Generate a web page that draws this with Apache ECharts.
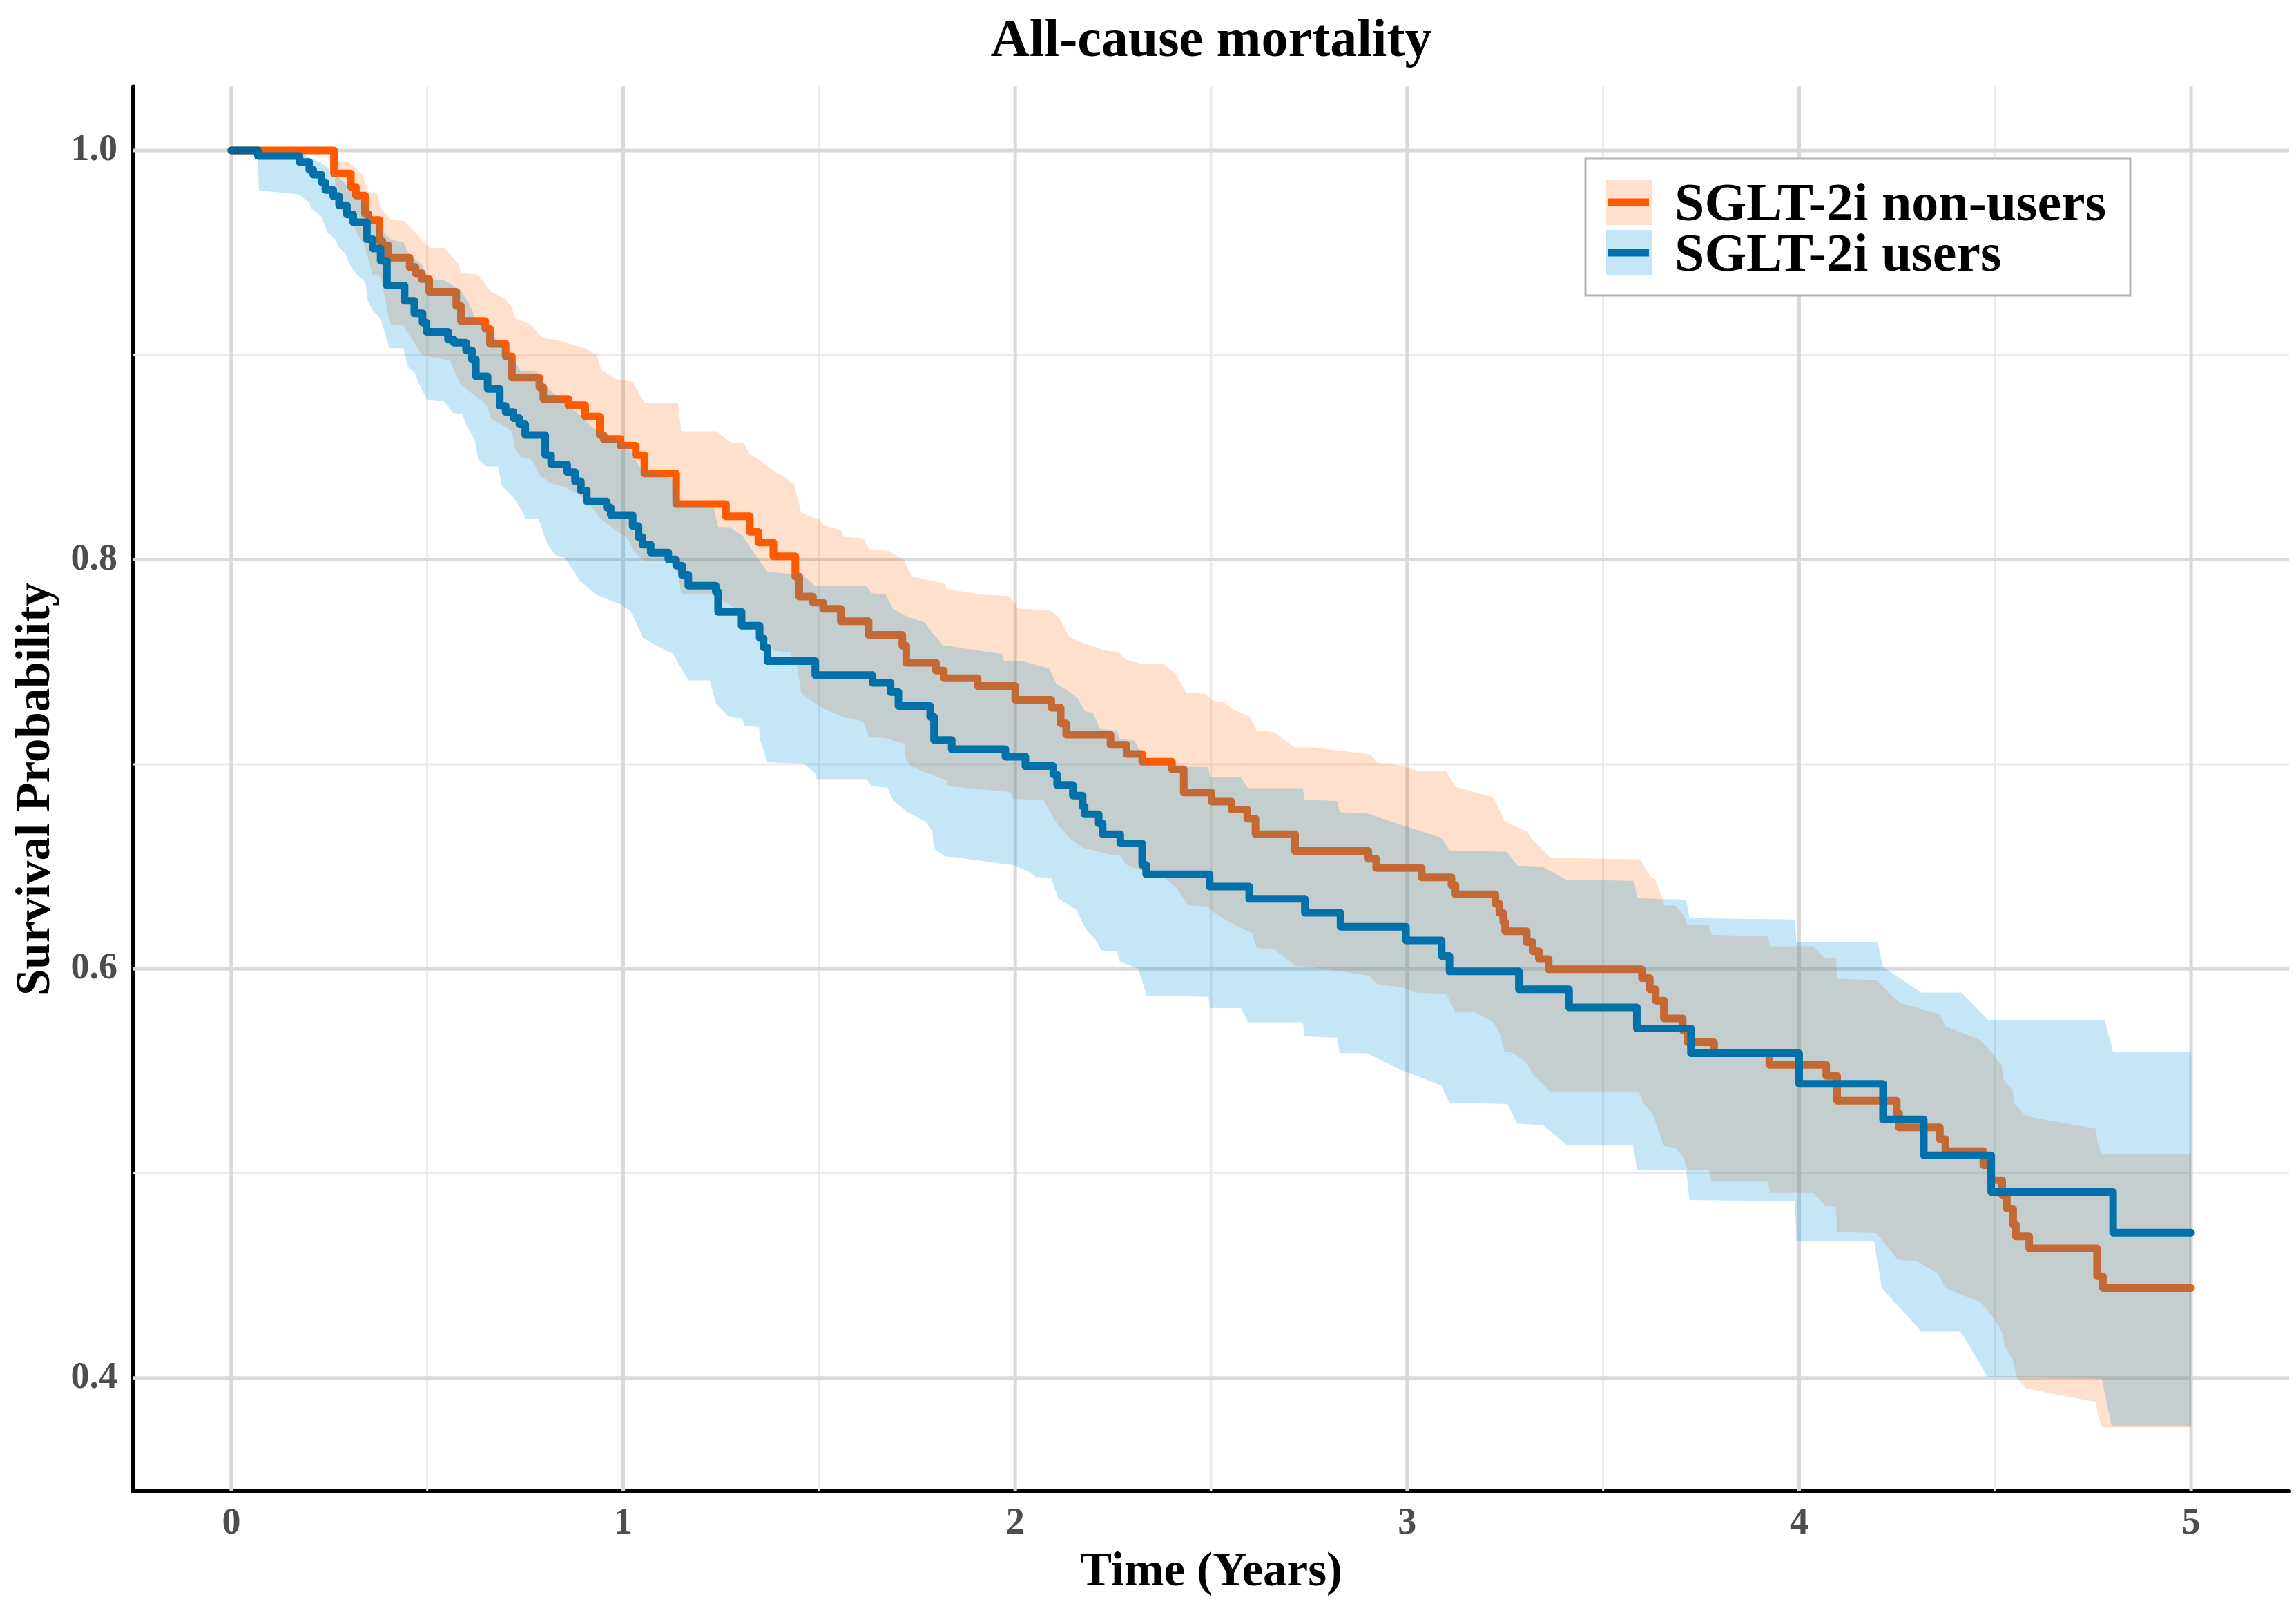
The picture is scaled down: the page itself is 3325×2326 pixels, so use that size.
<!DOCTYPE html>
<html>
<head>
<meta charset="utf-8">
<script src="https://cdn.jsdelivr.net/npm/echarts@6/dist/echarts.min.js"></script>
<style>
html,body{margin:0;padding:0;background:#ffffff;}
#chart{width:3325px;height:2326px;}
</style>
</head>
<body>
<div id="chart"></div>
<script>
// ---------------- data ----------------
const titleText = 'All-cause mortality';
const xAxisTitle = 'Time (Years)';
const yAxisTitle = 'Survival Probability';
const seriesNames = ['SGLT-2i non-users', 'SGLT-2i users'];

const xTickLabels = [0, 1, 2, 3, 4, 5];
const xMinorTicks = [0.5, 1.5, 2.5, 3.5, 4.5];
const yTickLabels = [0.4, 0.6, 0.8, 1.0];
const yMinorTicks = [0.5, 0.7, 0.9];

// Kaplan-Meier estimates [time, survival]
const nonUsersSurv = [
[0,1.0],[0.262,0.9888],[0.305,0.9822],[0.318,0.978],[0.341,0.969],[0.35,0.966],[0.378,0.956],[0.385,0.9537],[0.4,0.9476],[0.455,0.943],[0.47,0.94],[0.486,0.9371],[0.505,0.931],[0.574,0.924],[0.586,0.9167],[0.648,0.9129],[0.66,0.9055],[0.7,0.8994],[0.716,0.889],[0.786,0.8843],[0.796,0.8786],[0.86,0.8755],[0.903,0.87],[0.94,0.8609],[0.95,0.859],[0.993,0.8557],[1.032,0.8511],[1.054,0.8421],[1.135,0.8272],[1.262,0.8212],[1.323,0.8136],[1.345,0.8084],[1.383,0.8016],[1.439,0.7918],[1.449,0.782],[1.484,0.779],[1.51,0.776],[1.555,0.7699],[1.626,0.7632],[1.712,0.7579],[1.722,0.7496],[1.798,0.7458],[1.818,0.7421],[1.904,0.7383],[2.0,0.7315],[2.092,0.7276],[2.116,0.72],[2.13,0.7145],[2.243,0.7095],[2.284,0.705],[2.324,0.7012],[2.4,0.6975],[2.43,0.6862],[2.501,0.6817],[2.552,0.6779],[2.592,0.6734],[2.613,0.6658],[2.714,0.6576],[2.901,0.6538],[2.921,0.6493],[3.037,0.6447],[3.113,0.641],[3.123,0.6364],[3.225,0.6319],[3.235,0.6274],[3.245,0.6229],[3.25,0.6184],[3.305,0.6131],[3.32,0.6086],[3.336,0.6048],[3.361,0.5998],[3.599,0.5955],[3.619,0.59],[3.634,0.5845],[3.655,0.5758],[3.703,0.57],[3.716,0.5641],[3.783,0.5587],[3.924,0.5531],[4.069,0.5477],[4.097,0.5355],[4.249,0.5293],[4.255,0.5225],[4.359,0.5167],[4.373,0.5109],[4.47,0.5041],[4.49,0.4967],[4.518,0.4895],[4.53,0.4828],[4.546,0.475],[4.553,0.4692],[4.587,0.4634],[4.76,0.4498],[4.775,0.444],[5.0,0.444]
];
const usersSurv = [
[0,1.0],[0.068,0.9973],[0.174,0.9943],[0.199,0.9905],[0.209,0.9882],[0.23,0.9845],[0.24,0.9807],[0.26,0.9777],[0.275,0.9732],[0.295,0.9687],[0.311,0.9649],[0.346,0.9566],[0.361,0.9521],[0.381,0.9461],[0.397,0.934],[0.442,0.9265],[0.467,0.9204],[0.488,0.9159],[0.498,0.9114],[0.553,0.9076],[0.568,0.9061],[0.599,0.9024],[0.614,0.8978],[0.624,0.8896],[0.654,0.8835],[0.685,0.8752],[0.7,0.8722],[0.72,0.8692],[0.735,0.8662],[0.75,0.8609],[0.801,0.8511],[0.816,0.8466],[0.857,0.8428],[0.877,0.8383],[0.892,0.8338],[0.907,0.8285],[0.958,0.8255],[0.968,0.8218],[1.024,0.8165],[1.039,0.811],[1.049,0.8074],[1.07,0.8035],[1.115,0.8001],[1.135,0.7971],[1.15,0.7926],[1.166,0.7873],[1.236,0.7843],[1.242,0.7745],[1.302,0.7677],[1.348,0.7617],[1.358,0.7571],[1.368,0.7504],[1.49,0.7436],[1.636,0.7398],[1.682,0.7353],[1.702,0.7285],[1.783,0.7232],[1.793,0.7119],[1.838,0.7074],[1.975,0.7037],[2.026,0.6991],[2.097,0.695],[2.107,0.6899],[2.147,0.6847],[2.172,0.6794],[2.177,0.6756],[2.213,0.6711],[2.223,0.6658],[2.268,0.6613],[2.324,0.6508],[2.334,0.6462],[2.496,0.6402],[2.597,0.6342],[2.739,0.6274],[2.83,0.6206],[2.997,0.6139],[3.088,0.6063],[3.108,0.5988],[3.285,0.59],[3.413,0.5812],[3.586,0.5709],[3.724,0.5587],[4.0,0.5438],[4.214,0.5264],[4.318,0.5089],[4.49,0.4909],[4.801,0.4711],[5.0,0.4711]
];

// 95% confidence limits [time, value]
const nonUsersUpper = [
[0,1.0],[0.262,1.0],[0.263,0.995],[0.299,0.9944],[0.335,0.9882],[0.349,0.9799],[0.374,0.9785],[0.381,0.9723],[0.407,0.9661],[0.443,0.9655],[0.493,0.9551],[0.507,0.9524],[0.543,0.9524],[0.579,0.9448],[0.586,0.94],[0.63,0.9393],[0.662,0.931],[0.698,0.9276],[0.716,0.9234],[0.723,0.9179],[0.763,0.9151],[0.795,0.9083],[0.827,0.9076],[0.903,0.9034],[0.932,0.9],[0.946,0.8924],[0.982,0.8883],[1.025,0.8869],[1.054,0.8766],[1.14,0.8766],[1.148,0.8628],[1.238,0.8628],[1.274,0.8573],[1.307,0.8573],[1.321,0.8518],[1.35,0.8484],[1.382,0.8435],[1.415,0.8401],[1.436,0.8367],[1.454,0.8229],[1.501,0.8194],[1.512,0.8167],[1.555,0.8146],[1.562,0.8112],[1.612,0.8105],[1.627,0.805],[1.677,0.8043],[1.717,0.7995],[1.735,0.7919],[1.785,0.7898],[1.821,0.7884],[1.825,0.7857],[1.914,0.7829],[1.986,0.7822],[2.008,0.776],[2.087,0.7754],[2.111,0.772],[2.137,0.7624],[2.172,0.7594],[2.233,0.7555],[2.263,0.7549],[2.283,0.7511],[2.324,0.7489],[2.378,0.7489],[2.407,0.7447],[2.436,0.7351],[2.486,0.7344],[2.504,0.731],[2.533,0.7303],[2.555,0.7268],[2.598,0.7234],[2.616,0.7165],[2.659,0.7158],[2.713,0.7082],[2.763,0.7082],[2.907,0.7048],[2.925,0.7007],[2.986,0.6993],[3.029,0.6965],[3.1,0.6965],[3.123,0.689],[3.219,0.6839],[3.235,0.6779],[3.25,0.6719],[3.305,0.6673],[3.315,0.6643],[3.365,0.6543],[3.595,0.6535],[3.619,0.6455],[3.633,0.6434],[3.651,0.6345],[3.655,0.631],[3.684,0.631],[3.705,0.6262],[3.716,0.6214],[3.77,0.6214],[3.777,0.6166],[3.921,0.6159],[3.925,0.611],[4.036,0.611],[4.065,0.6055],[4.094,0.6055],[4.097,0.5952],[4.198,0.5945],[4.236,0.587],[4.256,0.5835],[4.359,0.5777],[4.373,0.5719],[4.463,0.5652],[4.492,0.559],[4.517,0.5528],[4.52,0.5466],[4.545,0.5404],[4.549,0.5342],[4.578,0.528],[4.758,0.5218],[4.761,0.5149],[4.772,0.5094],[5.0,0.5094]
];
const nonUsersLower = [
[0,1.0],[0.262,1.0],[0.266,0.9785],[0.277,0.9716],[0.306,0.9661],[0.32,0.96],[0.342,0.9523],[0.36,0.9393],[0.381,0.9386],[0.399,0.9207],[0.407,0.9152],[0.439,0.9145],[0.464,0.9069],[0.486,0.9],[0.558,0.8973],[0.583,0.8862],[0.608,0.8821],[0.651,0.8759],[0.662,0.869],[0.694,0.8655],[0.716,0.8628],[0.723,0.8545],[0.741,0.8497],[0.766,0.849],[0.788,0.8408],[0.817,0.8373],[0.853,0.8353],[0.892,0.8311],[0.91,0.8284],[0.939,0.8208],[0.96,0.8173],[1.011,0.8104],[1.029,0.8036],[1.054,0.7994],[1.127,0.7995],[1.141,0.7926],[1.148,0.7829],[1.224,0.7829],[1.289,0.7761],[1.321,0.7692],[1.353,0.765],[1.386,0.7554],[1.425,0.7547],[1.443,0.7485],[1.454,0.7347],[1.483,0.7306],[1.512,0.7271],[1.562,0.723],[1.612,0.7209],[1.627,0.7134],[1.67,0.7127],[1.717,0.7099],[1.72,0.703],[1.735,0.6989],[1.825,0.692],[1.828,0.6893],[1.986,0.6865],[1.994,0.6831],[2.073,0.6824],[2.091,0.6759],[2.109,0.6703],[2.141,0.6635],[2.17,0.6593],[2.242,0.6559],[2.27,0.6552],[2.281,0.6511],[2.317,0.6483],[2.382,0.6442],[2.411,0.64],[2.44,0.6311],[2.49,0.6304],[2.511,0.627],[2.547,0.6228],[2.605,0.6173],[2.616,0.6104],[2.659,0.6097],[2.716,0.6015],[2.76,0.6008],[2.903,0.5966],[2.925,0.5925],[2.986,0.5911],[3.022,0.5884],[3.1,0.5877],[3.123,0.5787],[3.173,0.5787],[3.22,0.5739],[3.238,0.5677],[3.249,0.5594],[3.263,0.5594],[3.303,0.5546],[3.321,0.5484],[3.364,0.5401],[3.59,0.5401],[3.601,0.5346],[3.626,0.5291],[3.655,0.5133],[3.684,0.5126],[3.705,0.5077],[3.716,0.5015],[3.77,0.5015],[3.777,0.496],[3.921,0.496],[3.925,0.4905],[4.036,0.4905],[4.065,0.4843],[4.094,0.4836],[4.097,0.4712],[4.197,0.4709],[4.251,0.4578],[4.301,0.4571],[4.355,0.4509],[4.373,0.444],[4.463,0.4371],[4.495,0.4295],[4.517,0.4227],[4.524,0.4157],[4.545,0.4089],[4.556,0.3999],[4.578,0.395],[4.758,0.3882],[4.761,0.3827],[4.772,0.3758],[5.0,0.3758]
];
const usersUpper = [
[0,1.0],[0.173,1.0],[0.198,0.9964],[0.227,0.9944],[0.245,0.9916],[0.259,0.9882],[0.284,0.9854],[0.306,0.9799],[0.349,0.973],[0.36,0.9661],[0.407,0.9565],[0.439,0.9551],[0.453,0.9496],[0.486,0.9441],[0.507,0.9365],[0.543,0.9365],[0.586,0.9317],[0.608,0.9248],[0.622,0.9179],[0.658,0.9124],[0.684,0.9062],[0.709,0.9007],[0.738,0.8924],[0.781,0.8917],[0.802,0.8849],[0.845,0.8773],[0.888,0.8711],[0.924,0.8642],[0.968,0.86],[1.011,0.8559],[1.025,0.8511],[1.048,0.8435],[1.127,0.8394],[1.145,0.827],[1.231,0.8256],[1.242,0.816],[1.271,0.816],[1.303,0.8119],[1.368,0.794],[1.458,0.7926],[1.49,0.7871],[1.62,0.7871],[1.634,0.7836],[1.67,0.7829],[1.688,0.776],[1.72,0.7726],[1.77,0.7692],[1.785,0.765],[1.817,0.7581],[1.965,0.754],[1.972,0.7506],[2.015,0.7506],[2.087,0.7468],[2.105,0.7392],[2.13,0.7365],[2.159,0.7323],[2.177,0.7261],[2.199,0.7248],[2.217,0.7172],[2.26,0.7165],[2.267,0.7124],[2.303,0.7117],[2.317,0.7075],[2.332,0.6993],[2.493,0.6986],[2.497,0.6938],[2.576,0.6938],[2.594,0.6883],[2.734,0.6883],[2.738,0.6827],[2.821,0.6821],[2.828,0.6765],[2.9,0.6759],[2.986,0.6703],[3.087,0.6641],[3.108,0.6579],[3.254,0.6572],[3.282,0.6504],[3.344,0.65],[3.406,0.6436],[3.579,0.643],[3.587,0.6345],[3.712,0.6338],[3.72,0.6248],[3.989,0.6241],[3.993,0.6131],[4.2,0.6131],[4.214,0.601],[4.311,0.5884],[4.414,0.5884],[4.483,0.5748],[4.78,0.5748],[4.801,0.5593],[5.0,0.5593]
];
const usersLower = [
[0,1.0],[0.068,1.0],[0.07,0.9806],[0.173,0.9785],[0.198,0.9744],[0.205,0.9716],[0.23,0.9675],[0.245,0.96],[0.266,0.9565],[0.273,0.953],[0.291,0.9496],[0.299,0.9455],[0.32,0.9393],[0.342,0.9358],[0.349,0.9262],[0.36,0.922],[0.381,0.9179],[0.403,0.9034],[0.439,0.9034],[0.45,0.8945],[0.471,0.8904],[0.478,0.8862],[0.5,0.878],[0.543,0.8773],[0.565,0.8718],[0.59,0.8711],[0.597,0.867],[0.622,0.858],[0.63,0.849],[0.651,0.8456],[0.68,0.8456],[0.691,0.836],[0.723,0.8297],[0.752,0.8201],[0.784,0.8201],[0.806,0.8077],[0.827,0.8022],[0.852,0.8008],[0.888,0.79],[0.93,0.783],[0.994,0.7781],[1.019,0.7747],[1.051,0.7616],[1.084,0.7581],[1.127,0.754],[1.166,0.741],[1.22,0.741],[1.238,0.7292],[1.271,0.723],[1.303,0.7223],[1.31,0.7189],[1.346,0.7182],[1.35,0.7113],[1.368,0.701],[1.461,0.7003],[1.49,0.6955],[1.494,0.6927],[1.62,0.6927],[1.634,0.6893],[1.674,0.6886],[1.688,0.6824],[1.728,0.6762],[1.771,0.672],[1.789,0.6672],[1.792,0.6589],[1.821,0.655],[1.85,0.6545],[2.0,0.6505],[2.04,0.647],[2.051,0.6449],[2.092,0.6445],[2.109,0.6345],[2.155,0.629],[2.18,0.6194],[2.202,0.615],[2.22,0.609],[2.26,0.6084],[2.267,0.6035],[2.314,0.6001],[2.335,0.587],[2.493,0.5863],[2.497,0.5808],[2.576,0.5808],[2.594,0.5739],[2.734,0.5739],[2.738,0.567],[2.821,0.5663],[2.828,0.5588],[2.896,0.5588],[2.986,0.5505],[3.087,0.543],[3.108,0.5346],[3.256,0.5339],[3.281,0.5243],[3.346,0.5236],[3.407,0.514],[3.576,0.514],[3.587,0.5015],[3.712,0.5015],[3.72,0.487],[3.989,0.4864],[3.993,0.467],[4.191,0.467],[4.211,0.444],[4.312,0.4227],[4.412,0.4227],[4.481,0.4006],[4.772,0.3999],[4.797,0.3765],[5.0,0.3765]
];

// ---------------- style ----------------
const X_MIN = -0.25, X_MAX = 5.25;
const Y_MIN = 0.3446, Y_MAX = 1.0312;
const orangeLine = '#FF5A00';
const blueLine = '#00669A';
const orangeFill = 'rgba(255,100,0,0.2)';
const blueFill = 'rgba(9,151,218,0.24)';
const orangeKey = '#FFE0CC';
const blueKey = '#C4E6F6';
const majorGrid = '#D9D9D9';
const minorGrid = '#EBEBEB';
const FONT = '"Liberation Serif", "DejaVu Serif", serif';

function gridLineSeries(values, dir, color, width) {
  return {
    type: 'custom', coordinateSystem: 'cartesian2d', silent: true, z: 1,
    data: values.map(v => dir === 'x' ? [v, 0.5] : [0, v]),
    renderItem: function (params, api) {
      const cs = params.coordSys;
      if (dir === 'x') {
        const x = api.coord([api.value(0), 0.5])[0];
        return { type: 'line', shape: { x1: x, y1: cs.y, x2: x, y2: cs.y + cs.height },
                 style: { stroke: color, lineWidth: width } };
      }
      const y = api.coord([0, api.value(1)])[1];
      return { type: 'line', shape: { x1: cs.x, y1: y, x2: cs.x + cs.width, y2: y },
               style: { stroke: color, lineWidth: width } };
    }
  };
}

function bandSeries(name, upper, lower, color, z) {
  return {
    type: 'custom', name: name, coordinateSystem: 'cartesian2d', silent: true, z: z,
    data: [[0, 1]],
    renderItem: function (params, api) {
      const pts = upper.map(p => api.coord(p))
        .concat(lower.slice().reverse().map(p => api.coord(p)));
      return { type: 'polygon', shape: { points: pts }, style: { fill: color } };
    }
  };
}

function kmSeries(name, data, color, z) {
  return {
    type: 'line', name: name, data: data, step: 'end', symbol: 'none', silent: true, z: z,
    lineStyle: { color: color, width: 11, cap: 'round', join: 'round' }
  };
}

const chart = echarts.init(document.getElementById('chart'), null, { renderer: 'canvas' });

const LEG_X = 2296, LEG_Y = 230, GZ = 50;
const TEXT_STYLE = { fontFamily: FONT, fontWeight: 'bold', fill: '#000000' };
const option = {
  backgroundColor: '#ffffff',
  animation: false,
  grid: { left: 193, right: 10, top: 125.5, bottom: 166, containLabel: false },
  xAxis: {
    type: 'value', min: X_MIN, max: X_MAX,
    name: xAxisTitle, nameLocation: 'middle', nameGap: 84,
    nameTextStyle: { fontFamily: FONT, fontWeight: 'bold', fontSize: 69, color: '#000000' },
    axisLine: { show: true, onZero: false, lineStyle: { color: '#000000', width: 6 } },
    axisTick: { show: false },
    splitLine: { show: false },
    axisLabel: {
      customValues: xTickLabels, margin: 20,
      fontFamily: FONT, fontWeight: 'bold', fontSize: 54, color: '#4D4D4D',
      formatter: v => String(Math.round(v))
    }
  },
  yAxis: {
    type: 'value', min: Y_MIN, max: Y_MAX,
    name: yAxisTitle, nameLocation: 'middle', nameGap: 105,
    nameTextStyle: { fontFamily: FONT, fontWeight: 'bold', fontSize: 69, color: '#000000' },
    axisLine: { show: true, onZero: false, lineStyle: { color: '#000000', width: 6 } },
    axisTick: { show: false },
    splitLine: { show: false },
    axisLabel: {
      customValues: yTickLabels, margin: 23,
      fontFamily: FONT, fontWeight: 'bold', fontSize: 54, color: '#4D4D4D',
      formatter: v => v.toFixed(1)
    }
  },
  series: [
    gridLineSeries(xMinorTicks, 'x', minorGrid, 3),
    gridLineSeries(yMinorTicks, 'y', minorGrid, 3),
    gridLineSeries(xTickLabels, 'x', majorGrid, 5),
    gridLineSeries(yTickLabels, 'y', majorGrid, 5),
    bandSeries(seriesNames[0] + ' CI', nonUsersUpper, nonUsersLower, orangeFill, 2),
    kmSeries(seriesNames[0], nonUsersSurv, orangeLine, 3),
    kmSeries(seriesNames[1], usersSurv, blueLine, 4),
    bandSeries(seriesNames[1] + ' CI', usersUpper, usersLower, blueFill, 5)
  ],
  graphic: {
    elements: [
      { type: 'text', x: 1754, y: 61, z: GZ,
        style: Object.assign({ text: titleText, fontSize: 78, align: 'center', verticalAlign: 'middle' }, TEXT_STYLE) },
      { type: 'rect', z: GZ, shape: { x: LEG_X, y: LEG_Y, width: 789, height: 198 },
        style: { fill: '#ffffff', stroke: '#B3B3B3', lineWidth: 3 } },
      { type: 'rect', z: GZ + 1, shape: { x: LEG_X + 30, y: LEG_Y + 30, width: 66, height: 66 }, style: { fill: orangeKey } },
      { type: 'line', z: GZ + 2, shape: { x1: LEG_X + 33, y1: LEG_Y + 63, x2: LEG_X + 92, y2: LEG_Y + 63 },
        style: { stroke: orangeLine, lineWidth: 11 } },
      { type: 'rect', z: GZ + 1, shape: { x: LEG_X + 30, y: LEG_Y + 103, width: 66, height: 66 }, style: { fill: blueKey } },
      { type: 'line', z: GZ + 2, shape: { x1: LEG_X + 33, y1: LEG_Y + 136, x2: LEG_X + 92, y2: LEG_Y + 136 },
        style: { stroke: '#0072B2', lineWidth: 11 } },
      { type: 'text', z: GZ + 2, x: LEG_X + 129, y: LEG_Y + 69,
        style: Object.assign({ text: seriesNames[0], fontSize: 78, align: 'left', verticalAlign: 'middle' }, TEXT_STYLE) },
      { type: 'text', z: GZ + 2, x: LEG_X + 129, y: LEG_Y + 142,
        style: Object.assign({ text: seriesNames[1], fontSize: 78, align: 'left', verticalAlign: 'middle' }, TEXT_STYLE) }
    ]
  }
};
chart.setOption(option);
</script>
</body>
</html>
